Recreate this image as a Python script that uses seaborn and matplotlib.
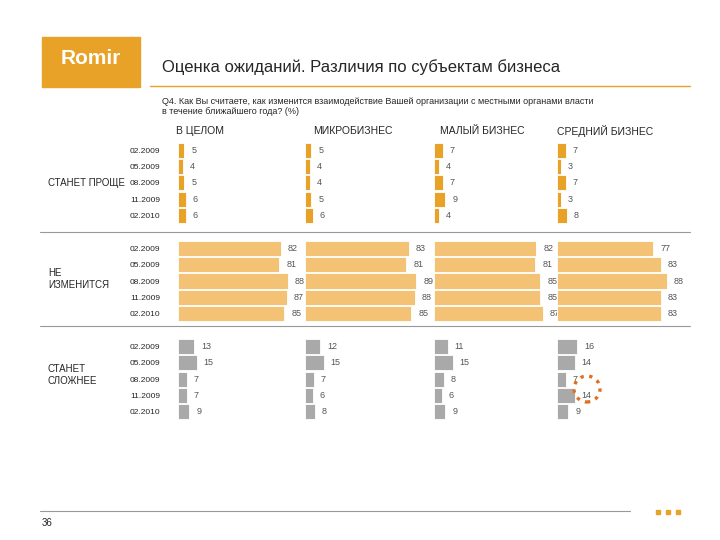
import numpy as np
import pandas as pd
import matplotlib
matplotlib.use("Agg")
import matplotlib.pyplot as plt
import seaborn as sns
from matplotlib.patches import Rectangle, Circle

sns.set_theme(style="white")
plt.rcParams['font.family'] = ['Liberation Sans', 'DejaVu Sans']

# данные
segments = ["В ЦЕЛОМ", "МИКРОБИЗНЕС", "МАЛЫЙ БИЗНЕС", "СРЕДНИЙ БИЗНЕС"]
periods = ["02.2009", "05.2009", "08.2009", "11.2009", "02.2010"]
groups = ["СТАНЕТ ПРОЩЕ", "НЕ\nИЗМЕНИТСЯ", "СТАНЕТ\nСЛОЖНЕЕ"]

easier = {
    "В ЦЕЛОМ": [5, 4, 5, 6, 6],
    "МИКРОБИЗНЕС": [5, 4, 4, 5, 6],
    "МАЛЫЙ БИЗНЕС": [7, 4, 7, 9, 4],
    "СРЕДНИЙ БИЗНЕС": [7, 3, 7, 3, 8],
}
same = {
    "В ЦЕЛОМ": [82, 81, 88, 87, 85],
    "МИКРОБИЗНЕС": [83, 81, 89, 88, 85],
    "МАЛЫЙ БИЗНЕС": [82, 81, 85, 85, 87],
    "СРЕДНИЙ БИЗНЕС": [77, 83, 88, 83, 83],
}
harder = {
    "В ЦЕЛОМ": [13, 15, 7, 7, 9],
    "МИКРОБИЗНЕС": [12, 15, 7, 6, 8],
    "МАЛЫЙ БИЗНЕС": [11, 15, 8, 6, 9],
    "СРЕДНИЙ БИЗНЕС": [16, 14, 7, 14, 9],
}
colors = ["#E9A228", "#F3C274", "#A9A9A9"]

# порядок строк с промежутками между группами
rows = []
for g in range(3):
    for p in periods:
        rows.append(f"{g}|{p}")
    if g < 2:
        rows.append(f"gap{g}")

W, H = 720, 540
fig = plt.figure(figsize=(7.2, 5.4), dpi=100)

def fx(x): return x / W
def fy(y): return 1 - y / H

lefts = [178, 305, 434, 557]
top, bottom = 142, 420
for i, seg in enumerate(segments):
    recs = []
    for g, d in enumerate([easier, same, harder]):
        for p, v in zip(periods, d[seg]):
            recs.append({"row": f"{g}|{p}", "value": v, "grp": str(g)})
    df = pd.DataFrame(recs)
    ax = fig.add_axes([fx(lefts[i]), fy(bottom), 125 / W, (bottom - top) / H])
    sns.barplot(data=df, y="row", x="value", hue="grp", order=rows, orient="h",
                palette=colors, saturation=1, dodge=False, width=0.92, legend=False, ax=ax,
                edgecolor="white", linewidth=0.6)
    ax.set_xlim(0, 100)
    ax.set_xlabel("")
    ax.set_ylabel("")
    ax.set_xticks([])
    sns.despine(ax=ax, left=True, bottom=True)
    for c in ax.containers:
        ax.bar_label(c, padding=5, fontsize=6.5, color="#555555")
    if i == 0:
        ax.set_yticks(range(len(rows)))
        ax.set_yticklabels([r.split("|")[1] if "|" in r else "" for r in rows], fontsize=6)
        ax.tick_params(axis="y", length=0, pad=13)
    else:
        ax.set_yticks([])
    fig.text(fx(lefts[i] + 22 if i == 0 else lefts[i] + 48), fy(131), seg,
             ha="center", va="center", fontsize=7.5)

# подписи групп
fig.text(fx(48), fy(183), groups[0], fontsize=7, va="center")
fig.text(fx(48), fy(279), groups[1], fontsize=7, va="center")
fig.text(fx(48), fy(375), groups[2], fontsize=7, va="center")

# разделители
for y in [232, 326]:
    fig.add_artist(plt.Line2D([fx(40), fx(690)], [fy(y), fy(y)], color="#999999", lw=0.8))

# шапка
fig.add_artist(Rectangle((fx(42), fy(87)), 98 / W, 50 / H, color="#E9A228"))
fig.text(fx(91), fy(58), "Romir", color="white", fontsize=15, fontweight="bold", ha="center", va="center")
fig.text(fx(162), fy(67), "Оценка ожиданий. Различия по субъектам бизнеса", fontsize=12, va="center")
fig.add_artist(plt.Line2D([fx(150), fx(690)], [fy(86), fy(86)], color="#E9A228", lw=1))
fig.text(fx(162), fy(101), "Q4. Как Вы считаете, как изменится взаимодействие Вашей организации с местными органами власти",
         fontsize=6.5, va="center")
fig.text(fx(162), fy(112), "в течение ближайшего года? (%)", fontsize=6.5, va="center")

# выделение
fig.add_artist(Circle((5.87, (H - 389) / 100), 0.13, transform=fig.dpi_scale_trans,
                      fill=False, ls=":", lw=2.4, ec="#E07020"))

# подвал
fig.add_artist(plt.Line2D([fx(40), fx(630)], [fy(511), fy(511)], color="#999999", lw=0.8))
fig.text(fx(42), fy(523), "36", fontsize=7, va="center")
for x in [656, 666, 676]:
    fig.add_artist(Rectangle((fx(x), fy(514)), 4 / W, 4 / H, color="#E9A228"))

fig.savefig("out.png", dpi=100)
